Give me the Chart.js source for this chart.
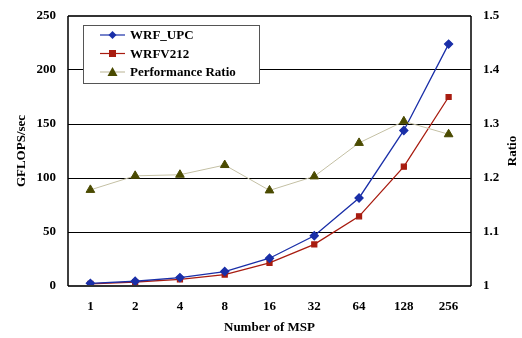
<!DOCTYPE html>
<html><head><meta charset="utf-8">
<script src="https://cdn.jsdelivr.net/npm/chart.js@4"></script>
<style>html,body{margin:0;padding:0;background:#fff}#w{width:522px;height:338px}</style>
</head><body><div id="w"><canvas id="c"></canvas></div>
<script>
const categories = ["1","2","4","8","16","32","64","128","256"];
const wrfUpc = [2.5, 4.4, 7.8, 13.4, 25.7, 46.5, 81.5, 144, 224];
const wrfV212 = [1.9, 3.7, 6.2, 10.6, 21.4, 38.5, 64.5, 110.5, 175];
const perfRatio = [1.178, 1.204, 1.206, 1.224, 1.177, 1.203, 1.265, 1.305, 1.281];
const seriesNames = ["WRF_UPC", "WRFV212", "Performance Ratio"];

const FONT = "'Liberation Serif', 'Times New Roman', serif";

const overlay = {
  id: 'overlay',
  afterDraw(chart) {
    const ctx = chart.ctx, a = chart.chartArea;
    ctx.save();
    ctx.strokeStyle = '#333';
    ctx.lineWidth = 2;
    ctx.beginPath();
    ctx.moveTo(a.left, a.top); ctx.lineTo(a.right, a.top);
    ctx.moveTo(a.left, a.bottom); ctx.lineTo(a.right, a.bottom);
    ctx.stroke();
    ctx.lineWidth = 1.5; ctx.strokeStyle = '#000';
    ctx.beginPath();
    ctx.moveTo(a.left, a.top); ctx.lineTo(a.left, a.bottom);
    ctx.moveTo(a.right, a.top); ctx.lineTo(a.right, a.bottom);
    ctx.stroke();
    const lx = 83.5, ly = 25.5, lw = 176, lh = 58;
    ctx.fillStyle = '#fff';
    ctx.fillRect(lx, ly, lw, lh);
    ctx.strokeStyle = '#555'; ctx.lineWidth = 1;
    ctx.strokeRect(lx, ly, lw, lh);
    ctx.font = 'bold 13px ' + FONT;
    ctx.textBaseline = 'middle';
    chart.data.datasets.forEach((ds, i) => {
      const y = 35 + i * 18.5;
      ctx.strokeStyle = ds.borderColor; ctx.lineWidth = 1.2;
      ctx.beginPath(); ctx.moveTo(100, y); ctx.lineTo(125, y); ctx.stroke();
      ctx.fillStyle = ds.pointBackgroundColor;
      ctx.beginPath();
      if (ds.pointStyle === 'rectRot') {
        ctx.moveTo(112.5, y - 4); ctx.lineTo(116.5, y); ctx.lineTo(112.5, y + 4); ctx.lineTo(108.5, y);
      } else if (ds.pointStyle === 'rect') {
        ctx.rect(109, y - 3.5, 7, 7);
      } else {
        ctx.moveTo(112.5, y - 5); ctx.lineTo(117.5, y + 4); ctx.lineTo(107.5, y + 4);
      }
      ctx.closePath(); ctx.fill();
      ctx.fillStyle = '#000';
      ctx.fillText(ds.label, 130, y + 1);
    });
    ctx.translate(513, a.top + (a.bottom - a.top) / 2);
    ctx.rotate(-Math.PI / 2);
    ctx.textAlign = 'center';
    ctx.fillStyle = '#000';
    ctx.font = 'bold 13px ' + FONT;
    ctx.fillText('Ratio', 0, 0);
    ctx.restore();
  }
};

new Chart(document.getElementById('c'), {
  type: 'line',
  data: {
    labels: categories,
    datasets: [
      { label: seriesNames[0], data: wrfUpc, yAxisID: 'y', borderColor: '#1a2fa8', backgroundColor: '#1a2fa8',
        pointBackgroundColor: '#1a2fa8', pointBorderColor: '#1a2fa8', pointStyle: 'rectRot', pointRadius: 4, borderWidth: 1.3, order: 1 },
      { label: seriesNames[1], data: wrfV212, yAxisID: 'y', borderColor: '#a81c10', backgroundColor: '#a81c10',
        pointBackgroundColor: '#a81c10', pointBorderColor: '#a81c10', pointStyle: 'rect', pointRadius: 3.5, borderWidth: 1.3, order: 2 },
      { label: seriesNames[2], data: perfRatio, yAxisID: 'y2', borderColor: '#c4c0a4', backgroundColor: '#4a4a00',
        pointBackgroundColor: '#4a4a00', pointBorderColor: '#4a4a00', pointStyle: 'triangle', pointRadius: 5, borderWidth: 1, order: 0 }
    ]
  },
  options: {
    responsive: true, maintainAspectRatio: false, animation: false,
    layout: { padding: { top: 16, right: 0, bottom: 0, left: 0 } },
    plugins: { legend: { display: false }, tooltip: { enabled: false } },
    scales: {
      x: {
        offset: true,
        afterFit(s) { s.height = 52; },
        grid: { display: false, drawTicks: false },
        border: { display: false },
        ticks: { color: '#000', font: { family: FONT, size: 13, weight: 'bold' }, padding: 13 },
        title: { display: true, text: 'Number of MSP', color: '#000', font: { family: FONT, size: 13, weight: 'bold' }, padding: { top: 4, bottom: 3 } }
      },
      y: {
        position: 'left', min: 0, max: 250,
        afterFit(s) { s.width = 68; s.paddingTop = 0; s.paddingBottom = 0; },
        grid: { color: '#000', lineWidth: 1, drawTicks: false },
        border: { display: false },
        ticks: { stepSize: 50, color: '#000', font: { family: FONT, size: 13, weight: 'bold' }, padding: 12 },
        title: { display: true, text: 'GFLOPS/sec', color: '#000', font: { family: FONT, size: 13, weight: 'bold' }, padding: { top: 14, bottom: 0 } }
      },
      y2: {
        position: 'right', min: 1, max: 1.5,
        afterFit(s) { s.width = 51; s.paddingTop = 0; s.paddingBottom = 0; },
        grid: { display: false, drawTicks: false },
        border: { display: false },
        ticks: { stepSize: 0.1, color: '#000', font: { family: FONT, size: 13, weight: 'bold' }, padding: 12,
          callback: v => String(Math.round(v * 10) / 10) }
      }
    }
  },
  plugins: [overlay]
});
</script>
</body></html>
